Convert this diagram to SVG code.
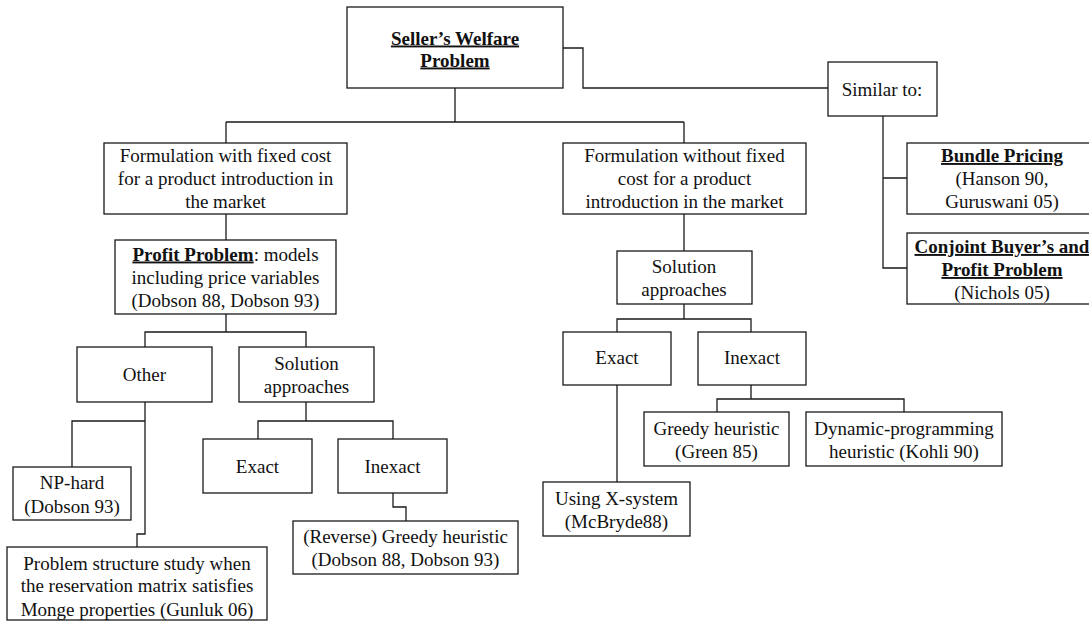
<svg xmlns="http://www.w3.org/2000/svg" width="1089" height="621" viewBox="0 0 1089 621">
<style>
rect.n{fill:#fff;stroke:#1a1a1a;stroke-width:1.3}
text{font-family:"Liberation Serif","Times New Roman",serif;font-size:19px;fill:#111;text-anchor:middle}
.b{font-weight:bold}
.u{text-decoration:underline}
#connectors path{fill:none;stroke:#1a1a1a;stroke-width:1.3}
</style>
<rect width="1089" height="621" fill="#fff"/>
<g id="connectors">
<path d="M455,88V122M226,122H684M226,122V143M684,122V143"/>
<path d="M563,48H583V88H828"/>
<path d="M883,116V268H907M883,178H907"/>
<path d="M226,214V240"/>
<path d="M226,314V332H145V347M226,332H306V347"/>
<path d="M145,402V421H72V467M145,421V534H137V547"/>
<path d="M306,402V421H258V439M306,421H393V439"/>
<path d="M393,493V507H406V521"/>
<path d="M684,214V251"/>
<path d="M684,304V319H617V332M684,319H751V332"/>
<path d="M617,385V482"/>
<path d="M751,385V399H717V412M751,399H904V412"/>
</g>
<g id="n-seller"><rect class="n" x="347" y="7" width="216" height="81"/><text class="b u" x="455" y="44.5">Seller’s Welfare</text><text class="b u" x="455" y="66.5">Problem</text></g>
<g id="n-similar"><rect class="n" x="828" y="62" width="109" height="54"/><text x="882" y="95.5">Similar to:</text></g>
<g id="n-bundle"><rect class="n" x="907" y="143" width="190" height="71"/><text class="b u" x="1002" y="162">Bundle Pricing</text><text x="1002" y="185">(Hanson 90,</text><text x="1002" y="208">Guruswani 05)</text></g>
<g id="n-conjoint"><rect class="n" x="907" y="233" width="190" height="71"/><text class="b u" x="1002" y="253">Conjoint Buyer’s and</text><text class="b u" x="1002" y="276">Profit Problem</text><text x="1002" y="299">(Nichols 05)</text></g>
<g id="n-withfixed"><rect class="n" x="104" y="143" width="243" height="71"/><text x="225.5" y="162">Formulation with fixed cost</text><text x="225.5" y="185">for a product introduction in</text><text x="225.5" y="208">the market</text></g>
<g id="n-withoutfixed"><rect class="n" x="563" y="143" width="243" height="71"/><text x="684.5" y="162">Formulation without fixed</text><text x="684.5" y="185">cost for a product</text><text x="684.5" y="208">introduction in the market</text></g>
<g id="n-profit"><rect class="n" x="115" y="240" width="221" height="74"/><text x="225.5" y="260.5"><tspan class="b u">Profit Problem</tspan>: models</text><text x="225.5" y="284">including price variables</text><text x="225.5" y="307">(Dobson 88, Dobson 93)</text></g>
<g id="n-other"><rect class="n" x="77" y="347" width="135" height="55"/><text x="144.5" y="380.5">Other</text></g>
<g id="n-sol-left"><rect class="n" x="239" y="347" width="135" height="55"/><text x="306.5" y="370">Solution</text><text x="306.5" y="392.5">approaches</text></g>
<g id="n-nphard"><rect class="n" x="13" y="467" width="118" height="53"/><text x="72" y="489">NP-hard</text><text x="72" y="512.5">(Dobson 93)</text></g>
<g id="n-structure"><rect class="n" x="7" y="547" width="260" height="73"/><text x="137" y="570">Problem structure study when</text><text x="137" y="592">the reservation matrix satisfies</text><text x="137" y="615.5">Monge properties (Gunluk 06)</text></g>
<g id="n-exact-left"><rect class="n" x="203" y="439" width="109" height="54"/><text x="257.5" y="472.5">Exact</text></g>
<g id="n-inexact-left"><rect class="n" x="338" y="439" width="109" height="54"/><text x="392.5" y="472.5">Inexact</text></g>
<g id="n-reverse"><rect class="n" x="293" y="521" width="225" height="53"/><text x="405.5" y="542.5">(Reverse) Greedy heuristic</text><text x="405.5" y="566">(Dobson 88, Dobson 93)</text></g>
<g id="n-sol-right"><rect class="n" x="617" y="251" width="135" height="53"/><text x="684" y="272.5">Solution</text><text x="684" y="296">approaches</text></g>
<g id="n-exact-right"><rect class="n" x="563" y="332" width="108" height="53"/><text x="617" y="364">Exact</text></g>
<g id="n-inexact-right"><rect class="n" x="698" y="332" width="108" height="53"/><text x="752" y="364">Inexact</text></g>
<g id="n-xsystem"><rect class="n" x="543" y="482" width="147" height="54"/><text x="616.5" y="505">Using X-system</text><text x="616.5" y="528">(McBryde88)</text></g>
<g id="n-greedy"><rect class="n" x="644" y="412" width="145" height="54"/><text x="716.5" y="435">Greedy heuristic</text><text x="716.5" y="457.5">(Green 85)</text></g>
<g id="n-dynamic"><rect class="n" x="806" y="412" width="196" height="54"/><text x="904" y="435">Dynamic-programming</text><text x="904" y="457.5">heuristic (Kohli 90)</text></g>
</svg>
